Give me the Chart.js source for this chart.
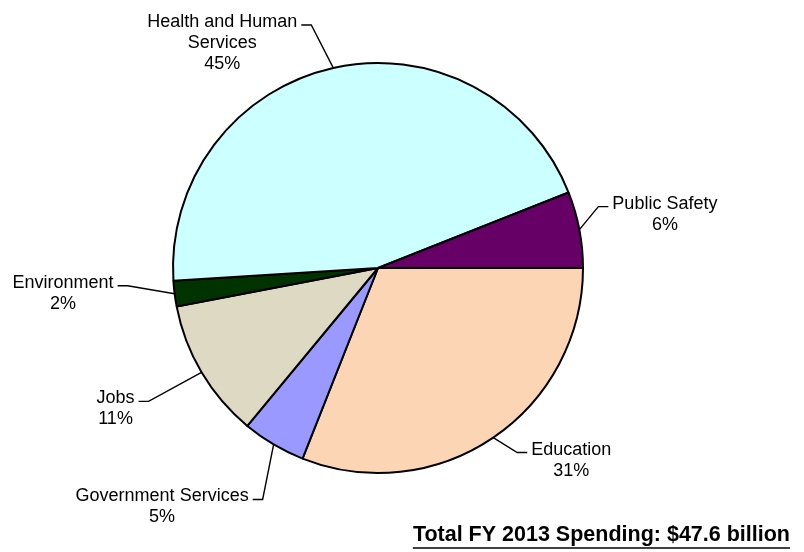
<!DOCTYPE html>
<html>
<head>
<meta charset="utf-8">
<script src="https://cdn.jsdelivr.net/npm/chart.js@4"></script>
<style>
  html, body { margin: 0; padding: 0; background: #fff; }
</style>
</head>
<body>
<canvas id="chart" width="804" height="552"></canvas>
<script>
// slices, clockwise from 3 o'clock
var categories = ['Education', 'Government Services', 'Jobs', 'Environment',
                  'Health and Human Services', 'Public Safety'];
var shares = [31, 5, 11, 2, 45, 6];
var sliceColors = ['#FCD5B5', '#9999FF', '#DDD9C3', '#003300', '#CCFFFF', '#660066'];
var totalLabel = 'Total FY 2013 Spending: $47.6 billion';

// leader line vector from slice edge to the label elbow
var leaderOffsets = [[24, 15], [-11, 55], [-53, 29], [-47, -8], [-22, -43], [19, -23]];

var FONT = '"Liberation Sans", Arial, sans-serif';

function wrapText(ctx, text, maxW) {
    var words = text.split(' ');
    var lines = [];
    var cur = '';
    words.forEach(function (w) {
        var test = cur ? cur + ' ' + w : w;
        if (cur && ctx.measureText(test).width > maxW) {
            lines.push(cur);
            cur = w;
        } else {
            cur = test;
        }
    });
    if (cur) lines.push(cur);
    return lines;
}

var labelPlugin = {
    id: 'sliceLabels',
    afterDraw: function (chart) {
        var ctx = chart.ctx;
        var arcs = chart.getDatasetMeta(0).data;
        ctx.save();
        ctx.font = '18px ' + FONT;
        ctx.fillStyle = '#000';
        ctx.strokeStyle = '#000';
        ctx.lineWidth = 1.4;
        arcs.forEach(function (arc, i) {
            var p = arc.getProps(['x', 'y', 'startAngle', 'endAngle', 'outerRadius'], true);
            var mid = (p.startAngle + p.endAngle) / 2;
            var sx = p.x + Math.cos(mid) * p.outerRadius;
            var sy = p.y + Math.sin(mid) * p.outerRadius;
            var ex = sx + leaderOffsets[i][0];
            var ey = sy + leaderOffsets[i][1];
            var right = Math.cos(mid) > 0;
            var hx = ex + (right ? 10 : -10);
            ctx.beginPath();
            ctx.moveTo(sx, sy);
            ctx.lineTo(ex, ey);
            ctx.lineTo(hx, ey);
            ctx.stroke();

            var lines = wrapText(ctx, categories[i], 180).concat([shares[i] + '%']);
            var w = 0;
            lines.forEach(function (t) { w = Math.max(w, ctx.measureText(t).width); });
            var cx = right ? hx + 4 + w / 2 : hx - 4 - w / 2;
            ctx.textAlign = 'center';
            ctx.textBaseline = 'alphabetic';
            lines.forEach(function (t, k) {
                ctx.fillText(t, cx, ey + 2 + k * 21);
            });
        });

        // total, underlined, bottom right
        ctx.font = 'bold 21.5px ' + FONT;
        ctx.textAlign = 'right';
        ctx.fillText(totalLabel, 790, 541);
        var tw = ctx.measureText(totalLabel).width;
        ctx.lineWidth = 1.5;
        ctx.beginPath();
        ctx.moveTo(790 - tw, 548);
        ctx.lineTo(790, 548);
        ctx.stroke();
        ctx.restore();
    }
};

new Chart(document.getElementById('chart'), {
    type: 'pie',
    data: {
        labels: categories,
        datasets: [{
            data: shares,
            backgroundColor: sliceColors,
            borderColor: '#000',
            borderWidth: 2
        }]
    },
    options: {
        responsive: false,
        animation: false,
        rotation: 90,
        radius: 205,
        layout: { padding: { left: 0, right: 48, top: 63, bottom: 79 } },
        plugins: {
            legend: { display: false },
            tooltip: { enabled: false }
        }
    },
    plugins: [labelPlugin]
});
</script>
</body>
</html>
